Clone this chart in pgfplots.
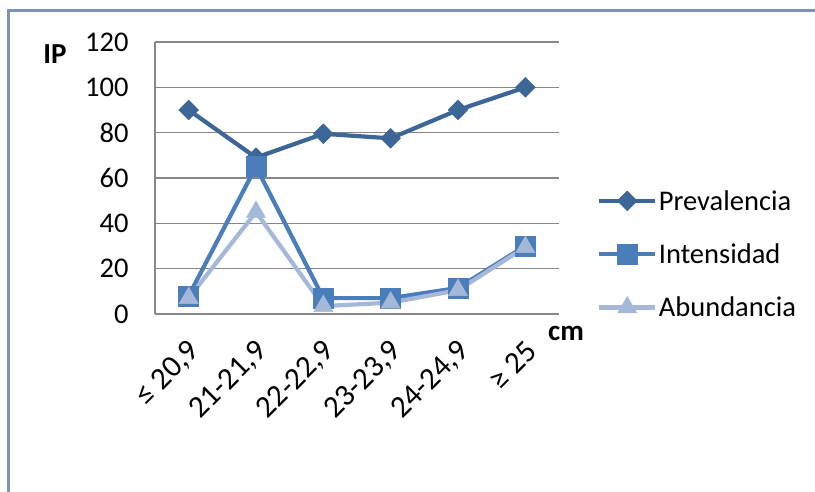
\documentclass[border=0pt]{standalone}
\usepackage{pgfplots}
\pgfplotsset{compat=1.18}
\usepackage{fontspec}
\setmainfont{Carlito}
\definecolor{prev}{HTML}{3C6598}
\definecolor{inte}{HTML}{4A7EBB}
\definecolor{abun}{HTML}{A5B8D9}
\definecolor{framec}{HTML}{7D93B3}
\definecolor{gridc}{HTML}{878787}
\newcommand{\lblfont}{\fontsize{28.5}{34}\selectfont}

\begin{document}
\begin{tikzpicture}[x=1pt,y=1pt]
\begin{axis}[
  at={(155pt,178pt)}, anchor=south west,
  scale only axis, width=404pt, height=272pt,
  xmin=-0.5, xmax=5.5, ymin=0, ymax=120,
  ytick={0,20,...,120},
  xtick={0,...,5},
  xticklabels={{≤ 20,9},{21-21,9},{22-22,9},{23-23,9},{24-24,9},{≥ 25}},
  axis lines=left,
  axis line style={-, draw=gridc, line width=1.2pt},
  major tick length=0pt,
  ymajorgrids, grid style={draw=gridc, line width=1.2pt},
  /pgf/number format/assume math mode=true,
  tick label style={font=\lblfont},
  yticklabel style={xshift=-23pt},
  xticklabel style={font=\fontsize{31}{36}\selectfont,
    xshift=9pt, yshift=-30pt, rotate=45, anchor=east},
  legend style={at={(1.094,0.22)}, anchor=west, draw=none, fill=none,
    font=\lblfont, row sep=29pt, inner sep=0pt,
    nodes={inner sep=1.5pt}, cells={anchor=west}},
  legend image code/.code={\draw[#1, mark repeat=2, mark phase=2]
    plot coordinates {(0pt,0pt)(28pt,0pt)(56pt,0pt)};},
  clip=false,
]
\addplot[prev, line width=4.2pt, mark=square*, mark size=7pt,
  mark options={solid, rotate=45, fill=prev, draw=prev, line width=0.5pt}]
  coordinates {(0,90) (1,69) (2,79.5) (3,77.5) (4,90) (5,100)};
\addlegendentry{Prevalencia}
\addplot[inte, line width=4.2pt, mark=square*, mark size=10pt,
  mark options={solid, fill=inte, draw=inte, line width=0.5pt}]
  coordinates {(0,8) (1,65) (2,7) (3,7) (4,11.5) (5,30)};
\addlegendentry{Intensidad}
\addplot[abun, line width=4.2pt, mark=triangle*, mark size=11pt,
  mark options={solid, fill=abun, draw=abun, line width=0.5pt}]
  coordinates {(0,7) (1,45) (2,3.5) (3,5) (4,10.5) (5,29.5)};
\addlegendentry{Abundancia}
\end{axis}
\node[font=\bfseries\fontsize{29}{34}\selectfont] at (55pt,438pt) {IP};
\node[font=\bfseries\fontsize{29}{34}\selectfont] at (566pt,159pt) {cm};
\draw[framec, line width=3pt] (8.7pt,-5pt) -- (8.7pt,481pt) -- (830pt,481pt);
\pgfresetboundingbox
\useasboundingbox (0,0) rectangle (815pt,492pt);
\end{tikzpicture}
\end{document}
